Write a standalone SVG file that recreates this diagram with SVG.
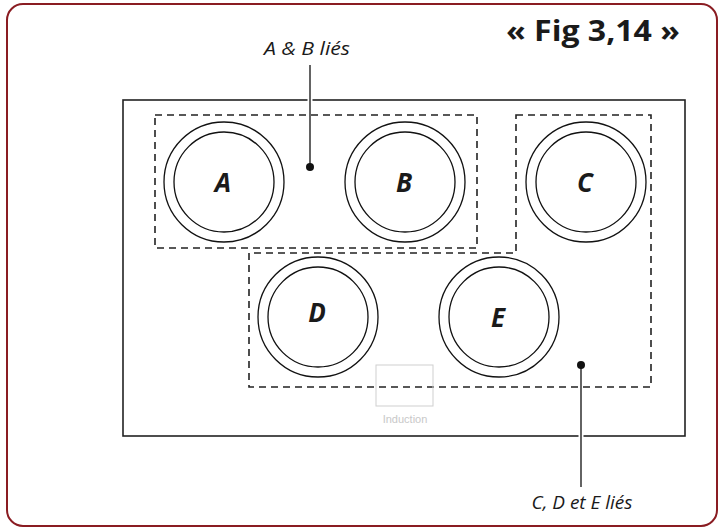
<svg xmlns="http://www.w3.org/2000/svg" width="724" height="531" viewBox="0 0 724 531">
<style>
.frame{fill:#fff;stroke:#8a1c22;stroke-width:2}
.plate{fill:none;stroke:#222;stroke-width:1.6}
.zone{fill:none;stroke:#222;stroke-width:1.6;stroke-dasharray:7,5}
.ring{fill:none;stroke:#111;stroke-width:1.3}
.lbl{font-family:"Open Sans","Liberation Sans",sans-serif;font-weight:bold;font-style:italic;font-size:26px;fill:#1a1a1a;text-anchor:middle}
.note{font-family:"Open Sans","Liberation Sans",sans-serif;font-style:italic;font-size:17.5px;fill:#1a1a1a;text-anchor:middle}
.lead{stroke:#222;stroke-width:1.4}
.gap{stroke:#fff;stroke-width:5}
</style>
<rect class="frame" x="7" y="4" width="710" height="522" rx="16"/>
<text x="593" y="41" font-family="'Open Sans','Liberation Sans',sans-serif" font-weight="bold" font-size="28" fill="#1a1a1a" text-anchor="middle" textLength="174" lengthAdjust="spacingAndGlyphs">« Fig 3,14 »</text>
<rect class="plate" x="123" y="100" width="562" height="336"/>
<g id="zone-ab"><rect class="zone" x="155" y="115" width="322" height="133"/></g>
<g id="zone-cde"><path class="zone" d="M516,115 H651 V387 H249 V253 H516 Z"/></g>
<g id="induction">
<rect x="376" y="365" width="57" height="41" fill="none" stroke="#cfcfcf" stroke-width="1"/>
<text x="405" y="423" font-family="'Liberation Sans',sans-serif" font-size="11" fill="#c8c8c8" text-anchor="middle">Induction</text>
</g>
<g id="A"><circle class="ring" cx="224" cy="182" r="60"/><circle class="ring" cx="224" cy="182" r="50"/><text class="lbl" x="223" y="192">A</text></g>
<g id="B"><circle class="ring" cx="405" cy="182" r="60"/><circle class="ring" cx="405" cy="182" r="50"/><text class="lbl" x="404" y="192">B</text></g>
<g id="C"><circle class="ring" cx="586" cy="182" r="60"/><circle class="ring" cx="586" cy="182" r="50"/><text class="lbl" x="585" y="192">C</text></g>
<g id="D"><circle class="ring" cx="318" cy="317" r="60"/><circle class="ring" cx="318" cy="317" r="50"/><text class="lbl" x="317" y="322">D</text></g>
<g id="E"><circle class="ring" cx="499" cy="317" r="60"/><circle class="ring" cx="499" cy="317" r="50"/><text class="lbl" x="498" y="327">E</text></g>
<g id="connectors">
<line class="gap" x1="310" y1="96" x2="310" y2="104"/>
<line class="lead" x1="310" y1="65" x2="310" y2="167"/>
<circle cx="310" cy="167" r="4" fill="#111"/>
<line class="gap" x1="581" y1="432" x2="581" y2="440"/>
<line class="lead" x1="581" y1="365" x2="581" y2="487"/>
<circle cx="581" cy="365" r="4" fill="#111"/>
</g>
<text class="note" x="307" y="55" textLength="86" lengthAdjust="spacingAndGlyphs">A &amp; B liés</text>
<text class="note" x="582" y="509" textLength="101" lengthAdjust="spacingAndGlyphs">C, D et E liés</text>
</svg>
